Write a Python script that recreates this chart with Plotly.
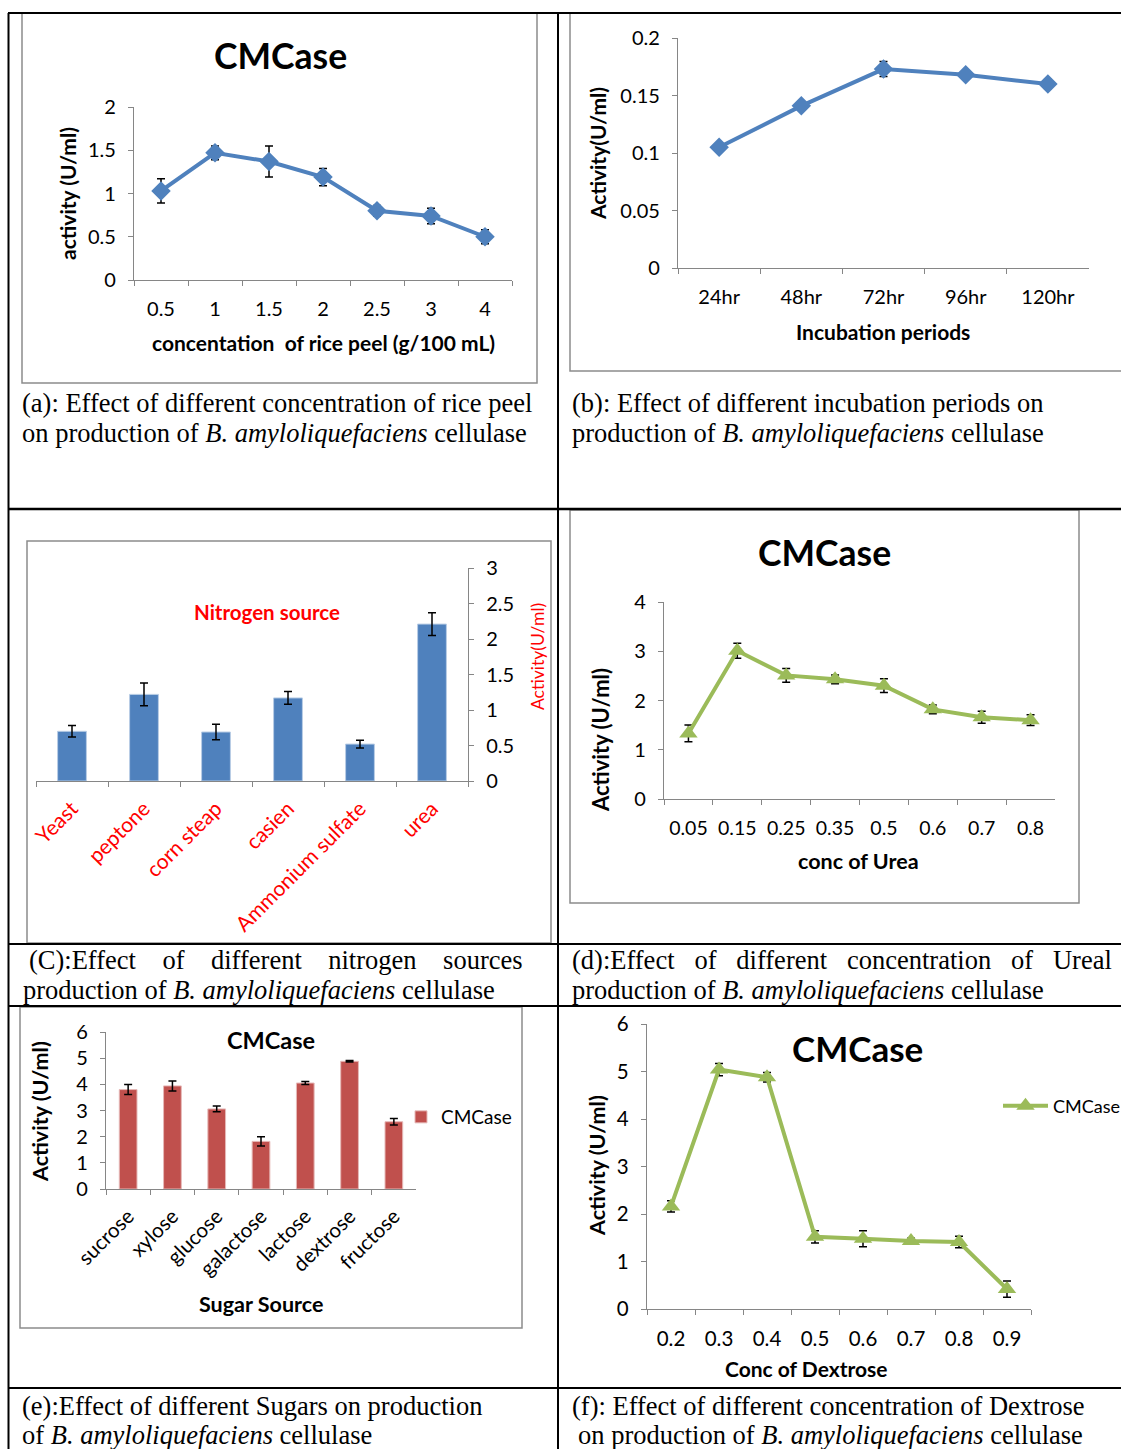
import plotly.graph_objects as go

W, H = 1121, 1449

# ---------------- data ----------------
a_cats = ["0.5", "1", "1.5", "2", "2.5", "3", "4"]
a_vals = [1.03, 1.47, 1.37, 1.19, 0.80, 0.74, 0.50]
a_err = [0.14, 0.08, 0.18, 0.10, 0.06, 0.09, 0.08]

b_cats = ["24hr", "48hr", "72hr", "96hr", "120hr"]
b_vals = [0.105, 0.141, 0.173, 0.168, 0.160]
b_err = [0.003, 0.003, 0.0065, 0.003, 0.004]

c_cats = ["Yeast", "peptone", "corn steap", "casien", "Ammonium sulfate", "urea"]
c_vals = [0.70, 1.22, 0.69, 1.17, 0.52, 2.21]
c_err = [0.08, 0.16, 0.11, 0.09, 0.055, 0.16]

d_cats = ["0.05", "0.15", "0.25", "0.35", "0.5", "0.6", "0.7", "0.8"]
d_vals = [1.33, 3.01, 2.51, 2.43, 2.30, 1.82, 1.66, 1.60]
d_err = [0.17, 0.15, 0.14, 0.09, 0.14, 0.09, 0.12, 0.11]

e_cats = ["sucrose", "xylose", "glucose", "galactose", "lactose", "dextrose", "fructose"]
e_vals = [3.80, 3.94, 3.06, 1.82, 4.05, 4.88, 2.57]
e_err = [0.19, 0.19, 0.11, 0.18, 0.06, 0.03, 0.12]

f_cats = ["0.2", "0.3", "0.4", "0.5", "0.6", "0.7", "0.8", "0.9"]
f_vals = [2.16, 5.04, 4.88, 1.52, 1.48, 1.43, 1.41, 0.42]
f_err = [0.12, 0.13, 0.10, 0.13, 0.17, 0.06, 0.12, 0.17]

# ---------------- helpers ----------------
def X(px):
    return px / W


def Y(py):
    return 1 - py / H


SANS = "Lato, Carlito, Calibri, sans-serif"
SERIF = "Liberation Serif, Times New Roman, serif"
AX = "#868686"
BLUE = "#4F81BD"
GREEN = "#9BBB59"
RED = "#C0504D"

fig = go.Figure()


def xaxis_cfg(x0, x1, yanchor, n, font_color="black", angle=0, size=20, standoff=11):
    return dict(domain=[X(x0), X(x1)], anchor=yanchor, type="category",
                range=[-0.5, n - 0.5], tickson="boundaries", ticks="outside",
                ticklen=5, tickcolor=AX, tickwidth=1.3, showline=True, linecolor=AX,
                linewidth=1.3, showgrid=False, zeroline=False, tickangle=angle,
                tickfont=dict(family=SANS, size=size, color=font_color),
                ticklabelstandoff=standoff, automargin=False, fixedrange=True)


def yaxis_cfg(y_top, y_bot, xanchor, rng, dtick, side="left", size=20, standoff=8):
    return dict(domain=[Y(y_bot), Y(y_top)], anchor=xanchor, range=rng, dtick=dtick,
                ticks="outside", ticklen=5, tickcolor=AX, tickwidth=1.3, showline=True,
                linecolor=AX, linewidth=1.3, showgrid=False, zeroline=False, side=side,
                tickfont=dict(family=SANS, size=size, color="black"),
                ticklabelstandoff=standoff, automargin=False, fixedrange=True)


def err(arr):
    return dict(type="data", array=arr, visible=True, color="black", thickness=1.5, width=4)


# (a)
fig.add_trace(go.Scatter(x=a_cats, y=a_vals, xaxis="x", yaxis="y", mode="lines+markers",
                         line=dict(color=BLUE, width=4),
                         marker=dict(symbol="diamond", size=15, color=BLUE),
                         error_y=err(a_err), showlegend=False))
# (b)
fig.add_trace(go.Scatter(x=b_cats, y=b_vals, xaxis="x2", yaxis="y2", mode="lines+markers",
                         line=dict(color=BLUE, width=4),
                         marker=dict(symbol="diamond", size=15, color=BLUE),
                         error_y=err(b_err), showlegend=False))
# (c)
fig.add_trace(go.Bar(x=c_cats, y=c_vals, xaxis="x3", yaxis="y3",
                     marker=dict(color=BLUE, line=dict(color="#B9CDE5", width=1)),
                     error_y=err(c_err), showlegend=False))
# (d)
fig.add_trace(go.Scatter(x=d_cats, y=d_vals, xaxis="x4", yaxis="y4", mode="lines+markers",
                         line=dict(color=GREEN, width=4),
                         marker=dict(symbol="triangle-up", size=16, color=GREEN),
                         error_y=err(d_err), showlegend=False))
# (e)
fig.add_trace(go.Bar(x=e_cats, y=e_vals, xaxis="x5", yaxis="y5", name="CMCase",
                     marker=dict(color=RED, line=dict(color="#E6B9B8", width=1)),
                     error_y=err(e_err), showlegend=True, legend="legend"))
# (f)
fig.add_trace(go.Scatter(x=f_cats, y=f_vals, xaxis="x6", yaxis="y6", mode="lines+markers",
                         name="CMCase", line=dict(color=GREEN, width=4),
                         marker=dict(symbol="triangle-up", size=16, color=GREEN),
                         error_y=err(f_err), showlegend=True, legend="legend2"))

fig.update_layout(
    width=W, height=H, margin=dict(l=0, r=0, t=0, b=0, autoexpand=False),
    paper_bgcolor="white", plot_bgcolor="rgba(0,0,0,0)",
    bargap=0.6,
    xaxis=xaxis_cfg(134, 512, "y", len(a_cats)),
    yaxis=yaxis_cfg(107, 280, "x", [0, 2], 0.5),
    xaxis2=xaxis_cfg(678, 1089, "y2", len(b_cats)),
    yaxis2=yaxis_cfg(38, 268, "x2", [0, 0.2], 0.05),
    xaxis3=xaxis_cfg(36, 468, "y3", len(c_cats), font_color="red", angle=-45, size=21, standoff=6),
    yaxis3=yaxis_cfg(568, 781, "x3", [0, 3], 0.5, side="right"),
    xaxis4=xaxis_cfg(664, 1055, "y4", len(d_cats), size=19.5),
    yaxis4=yaxis_cfg(602, 799, "x4", [0, 4], 1),
    xaxis5=xaxis_cfg(106, 416, "y5", len(e_cats), angle=-45, size=20.5, standoff=6),
    yaxis5=yaxis_cfg(1032, 1189, "x5", [0, 6], 1, size=20),
    xaxis6=xaxis_cfg(647, 1031, "y6", len(f_cats), size=20.5),
    yaxis6=yaxis_cfg(1024, 1309, "x6", [0, 6], 1, size=20.5),
    legend=dict(x=X(401), y=Y(1117), xanchor="left", yanchor="middle",
                bgcolor="rgba(0,0,0,0)", font=dict(family=SANS, size=19, color="black"),
                itemwidth=30),
    legend2=dict(x=X(998), y=Y(1106), xanchor="left", yanchor="middle",
                 bgcolor="rgba(0,0,0,0)", font=dict(family=SANS, size=18, color="black"),
                 itemwidth=45),
)

# ---------------- frames & table lines ----------------
shapes = []


def frame(x0, y0, x1, y1):
    shapes.append(dict(type="rect", xref="paper", yref="paper", x0=X(x0), x1=X(x1),
                       y0=Y(y1), y1=Y(y0), line=dict(color="#8C8C8C", width=1.5),
                       fillcolor="rgba(0,0,0,0)", layer="below"))


frame(22, 13, 537, 383)
frame(570, 13, 1130, 371)
frame(27, 541, 551, 943)
frame(570, 510, 1079, 903)
frame(20, 1007, 522, 1328)


def hline(y, x0=8, x1=1121, w=2):
    shapes.append(dict(type="line", xref="paper", yref="paper", x0=X(x0), x1=X(x1),
                       y0=Y(y), y1=Y(y), line=dict(color="black", width=w)))


def vline(x, y0=13, y1=1449, w=2):
    shapes.append(dict(type="line", xref="paper", yref="paper", x0=X(x), x1=X(x),
                       y0=Y(y0), y1=Y(y1), line=dict(color="black", width=w)))


hline(13)
hline(509, w=2.5)
hline(944)
hline(1006)
hline(1388)
vline(8.5)
vline(558)
fig.update_layout(shapes=shapes)

# ---------------- text ----------------
ann = []


def txt(s, x, y, size, bold=False, color="black", angle=0, family=SANS, anchor="center"):
    if bold:
        s = "<b>" + s + "</b>"
    ann.append(dict(text=s, x=X(x), y=Y(y), xref="paper", yref="paper", showarrow=False,
                    xanchor=anchor, yanchor="middle", textangle=angle,
                    font=dict(family=family, size=size, color=color)))


# chart titles / axis titles
txt("CMCase", 280, 56, 35.5, bold=True)
txt("activity (U/ml)", 67, 194, 21, bold=True, angle=-90)
txt("concentation&nbsp; of rice peel (g/100 mL)", 323, 343, 21, bold=True)

txt("Activity(U/ml)", 598, 153, 21, bold=True, angle=-90)
txt("Incubation periods", 883, 331, 21, bold=True)

txt("Nitrogen source", 267, 612, 20.5, bold=True, color="red")
txt("Activity(U/ml)", 537, 657, 17.5, color="red", angle=-90)

txt("CMCase", 824, 552, 35.5, bold=True)
txt("Activity (U/ml)", 601, 740, 22, bold=True, angle=-90)
txt("conc of Urea", 858, 861, 21.5, bold=True)

txt("CMCase", 271, 1040, 23.5, bold=True)
txt("Activity (U/ml)", 40, 1112, 21.5, bold=True, angle=-90)
txt("Sugar Source", 261, 1304, 21.5, bold=True)

txt("CMCase", 857, 1048, 35, bold=True)
txt("Activity (U/ml)", 597, 1166, 21.5, bold=True, angle=-90)
txt("Conc of Dextrose", 806, 1368, 21, bold=True)

# captions
CS = 26.5
sp_c = "&nbsp;" * 4
sp_d = "&nbsp;" * 3
txt("(a): Effect of different concentration of rice peel", 20, 403, CS, family=SERIF, anchor="left")
txt("on production of <i>B. amyloliquefaciens</i> cellulase", 20, 433, CS, family=SERIF, anchor="left")
txt("(b): Effect of different incubation periods on", 570, 403, CS, family=SERIF, anchor="left")
txt("production of <i>B. amyloliquefaciens</i> cellulase", 570, 433, CS, family=SERIF, anchor="left")
txt(sp_c.join(["(C):Effect", "of", "different", "nitrogen", "sources"]), 27, 960, CS, family=SERIF, anchor="left")
txt("production of <i>B. amyloliquefaciens</i> cellulase", 21, 990, CS, family=SERIF, anchor="left")
txt(sp_d.join(["(d):Effect", "of", "different", "concentration", "of", "Ureal"]), 570, 960, CS, family=SERIF, anchor="left")
txt("production of <i>B. amyloliquefaciens</i> cellulase", 570, 990, CS, family=SERIF, anchor="left")
txt("(e):Effect of different Sugars on production", 20, 1406, CS, family=SERIF, anchor="left")
txt("of <i>B. amyloliquefaciens</i> cellulase", 20, 1435, CS, family=SERIF, anchor="left")
txt("(f): Effect of different concentration of Dextrose", 570, 1406, CS, family=SERIF, anchor="left")
txt("on production of <i>B. amyloliquefaciens</i> cellulase", 576, 1435, CS, family=SERIF, anchor="left")

fig.update_layout(annotations=ann)

fig.write_html("out.html", config={"displayModeBar": False},
               post_script="document.body.style.margin='0';document.body.style.overflow='hidden';")
